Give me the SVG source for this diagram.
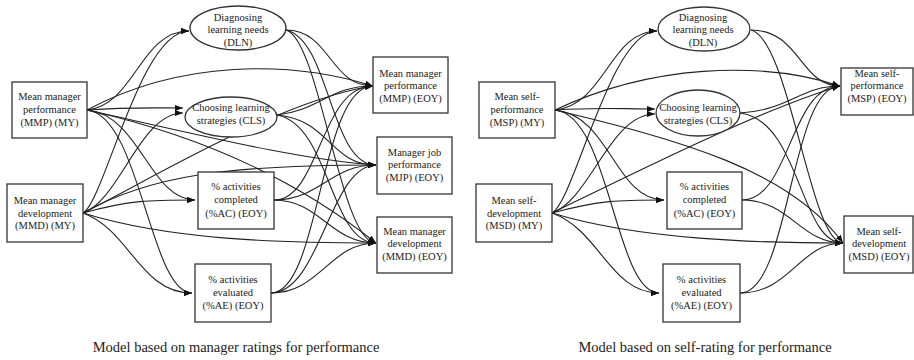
<svg xmlns="http://www.w3.org/2000/svg" width="914" height="360" viewBox="0 0 914 360">
<style>
  .box { fill: #fff; stroke: #333; stroke-width: 1.3; }
  .t { font-family: "Liberation Serif", "Times New Roman", serif; font-size: 10.5px; fill: #222; text-anchor: middle; }
  .cap { font-family: "Liberation Serif", "Times New Roman", serif; font-size: 14.5px; fill: #222; text-anchor: middle; }
  .e { fill: none; stroke: #222; stroke-width: 1.1; marker-end: url(#ah); }
</style>
<defs>
  <marker id="ah" markerUnits="userSpaceOnUse" markerWidth="9" markerHeight="7" refX="8" refY="3" orient="auto">
    <path d="M0,0 L8,3 L0,6 z" fill="#111"/>
  </marker>
</defs>
<rect width="914" height="360" fill="#fff"/>

<g id="connectors">
  <!-- left model -->
  <path class="e" d="M87,110 C135,105 140,31 189,31"/>
  <path class="e" d="M87,110 C130,107 150,108 183,108"/>
  <path class="e" d="M87,110 C140,115 150,200 195,200"/>
  <path class="e" d="M87,110 C140,115 150,293 192,293"/>
  <path class="e" d="M87,110 C180,60 290,60 373,86"/>
  <path class="e" d="M87,110 C200,135 300,160 376,165"/>
  <path class="e" d="M87,110 C220,140 310,190 376,243"/>
  <path class="e" d="M83,213 C105,200 140,31 189,31"/>
  <path class="e" d="M83,213 C120,200 140,113 183,113"/>
  <path class="e" d="M83,213 C150,180 280,100 373,86"/>
  <path class="e" d="M83,213 C150,175 230,165 376,165"/>
  <path class="e" d="M83,213 C130,200 150,200 195,200"/>
  <path class="e" d="M83,213 C170,240 280,243 376,243"/>
  <path class="e" d="M83,213 C130,230 140,293 192,293"/>
  <path class="e" d="M286,30 C330,30 330,86 373,86"/>
  <path class="e" d="M286,30 C330,40 330,165 376,165"/>
  <path class="e" d="M286,30 C320,40 340,243 376,243"/>
  <path class="e" d="M277,115 C320,110 330,86 373,86"/>
  <path class="e" d="M277,115 C330,120 330,165 376,165"/>
  <path class="e" d="M277,115 C330,125 330,243 376,243"/>
  <path class="e" d="M274,200 C320,200 320,86 373,86"/>
  <path class="e" d="M274,200 C320,200 330,165 376,165"/>
  <path class="e" d="M274,200 C320,200 330,243 376,243"/>
  <path class="e" d="M271,293 C320,293 320,86 373,86"/>
  <path class="e" d="M271,293 C320,293 330,165 376,165"/>
  <path class="e" d="M271,293 C320,293 330,243 376,243"/>
  <!-- right model -->
  <path class="e" d="M555,110 C605,105 610,31 657,31"/>
  <path class="e" d="M555,110 C600,107 620,109 655,109"/>
  <path class="e" d="M555,110 C610,115 615,200 664,200"/>
  <path class="e" d="M555,110 C610,115 615,293 659,293"/>
  <path class="e" d="M555,110 C650,65 760,60 840,86"/>
  <path class="e" d="M555,110 C680,140 790,170 843,243"/>
  <path class="e" d="M552,213 C575,200 610,31 657,31"/>
  <path class="e" d="M552,213 C590,200 610,114 655,114"/>
  <path class="e" d="M552,213 C640,170 760,110 840,86"/>
  <path class="e" d="M552,213 C600,200 620,200 664,200"/>
  <path class="e" d="M552,213 C640,240 760,243 843,243"/>
  <path class="e" d="M552,213 C600,230 610,293 659,293"/>
  <path class="e" d="M751,30 C800,30 800,86 840,86"/>
  <path class="e" d="M751,30 C790,40 810,243 843,243"/>
  <path class="e" d="M740,113 C790,110 800,86 840,86"/>
  <path class="e" d="M740,113 C800,120 800,243 843,243"/>
  <path class="e" d="M742,200 C790,200 790,86 840,86"/>
  <path class="e" d="M742,200 C790,200 800,243 843,243"/>
  <path class="e" d="M740,293 C790,293 790,86 840,86"/>
  <path class="e" d="M740,293 C790,293 800,243 843,243"/>
</g>

<!-- left model nodes -->
<g id="mmp-my">
  <rect class="box" x="12" y="82" width="75" height="56"/>
  <text class="t" x="49.5" y="99.5">Mean manager</text>
  <text class="t" x="49.5" y="112.5">performance</text>
  <text class="t" x="49.5" y="125.5">(MMP) (MY)</text>
</g>
<g id="mmd-my">
  <rect class="box" x="7" y="184" width="76" height="58"/>
  <text class="t" x="45" y="203.5">Mean manager</text>
  <text class="t" x="45" y="216.5">development</text>
  <text class="t" x="45" y="229">(MMD) (MY)</text>
</g>
<g id="dln-l">
  <ellipse class="box" cx="238" cy="28" rx="48" ry="22"/>
  <text class="t" x="238" y="20.5">Diagnosing</text>
  <text class="t" x="238" y="33">learning needs</text>
  <text class="t" x="238" y="45.5">(DLN)</text>
</g>
<g id="cls-l">
  <ellipse class="box" cx="231" cy="117" rx="46" ry="20"/>
  <text class="t" x="231" y="111">Choosing learning</text>
  <text class="t" x="231" y="124">strategies (CLS)</text>
</g>
<g id="ac-l">
  <rect class="box" x="198" y="172" width="76" height="57"/>
  <text class="t" x="236" y="190">% activities</text>
  <text class="t" x="236" y="203">completed</text>
  <text class="t" x="236" y="216.5">(%AC) (EOY)</text>
</g>
<g id="ae-l">
  <rect class="box" x="195" y="264" width="76" height="58"/>
  <text class="t" x="233" y="283">% activities</text>
  <text class="t" x="233" y="296">evaluated</text>
  <text class="t" x="233" y="309">(%AE) (EOY)</text>
</g>
<g id="mmp-eoy">
  <rect class="box" x="373" y="57" width="75" height="56"/>
  <text class="t" x="410.5" y="76.5">Mean manager</text>
  <text class="t" x="410.5" y="89">performance</text>
  <text class="t" x="410.5" y="102">(MMP) (EOY)</text>
</g>
<g id="mjp-eoy">
  <rect class="box" x="377" y="137" width="75" height="57"/>
  <text class="t" x="414.5" y="155.5">Manager job</text>
  <text class="t" x="414.5" y="168">performance</text>
  <text class="t" x="414.5" y="180.5">(MJP) (EOY)</text>
</g>
<g id="mmd-eoy">
  <rect class="box" x="377" y="217" width="75" height="56"/>
  <text class="t" x="414.5" y="234.5">Mean manager</text>
  <text class="t" x="414.5" y="247">development</text>
  <text class="t" x="414.5" y="259.5">(MMD) (EOY)</text>
</g>

<!-- right model nodes -->
<g id="msp-my">
  <rect class="box" x="479" y="82" width="76" height="56"/>
  <text class="t" x="517" y="100">Mean self-</text>
  <text class="t" x="517" y="112.5">performance</text>
  <text class="t" x="517" y="125.5">(MSP) (MY)</text>
</g>
<g id="msd-my">
  <rect class="box" x="476" y="184" width="76" height="58"/>
  <text class="t" x="514" y="203.5">Mean self-</text>
  <text class="t" x="514" y="216.5">development</text>
  <text class="t" x="514" y="229">(MSD) (MY)</text>
</g>
<g id="dln-r">
  <ellipse class="box" cx="704" cy="29" rx="46" ry="22"/>
  <text class="t" x="703" y="20.5">Diagnosing</text>
  <text class="t" x="703" y="33">learning needs</text>
  <text class="t" x="703" y="45.5">(DLN)</text>
</g>
<g id="cls-r">
  <ellipse class="box" cx="698" cy="113" rx="42" ry="23"/>
  <text class="t" x="698" y="111">Choosing learning</text>
  <text class="t" x="698" y="124">strategies (CLS)</text>
</g>
<g id="ac-r">
  <rect class="box" x="667" y="172" width="75" height="57"/>
  <text class="t" x="704.5" y="190">% activities</text>
  <text class="t" x="704.5" y="203">completed</text>
  <text class="t" x="704.5" y="216.5">(%AC) (EOY)</text>
</g>
<g id="ae-r">
  <rect class="box" x="663" y="264" width="77" height="58"/>
  <text class="t" x="701.5" y="283">% activities</text>
  <text class="t" x="701.5" y="296">evaluated</text>
  <text class="t" x="701.5" y="309">(%AE) (EOY)</text>
</g>
<g id="msp-eoy">
  <rect class="box" x="841" y="68" width="72" height="47"/>
  <text class="t" x="877" y="76.5">Mean self-</text>
  <text class="t" x="877" y="89">performance</text>
  <text class="t" x="877" y="102">(MSP) (EOY)</text>
</g>
<g id="msd-eoy">
  <rect class="box" x="844" y="216" width="69" height="57"/>
  <text class="t" x="879" y="235">Mean self-</text>
  <text class="t" x="879" y="247">development</text>
  <text class="t" x="879" y="259.5">(MSD) (EOY)</text>
</g>

<text class="cap" x="236" y="352">Model based on manager ratings for performance</text>
<text class="cap" x="705" y="352">Model based on self-rating for performance</text>
</svg>
